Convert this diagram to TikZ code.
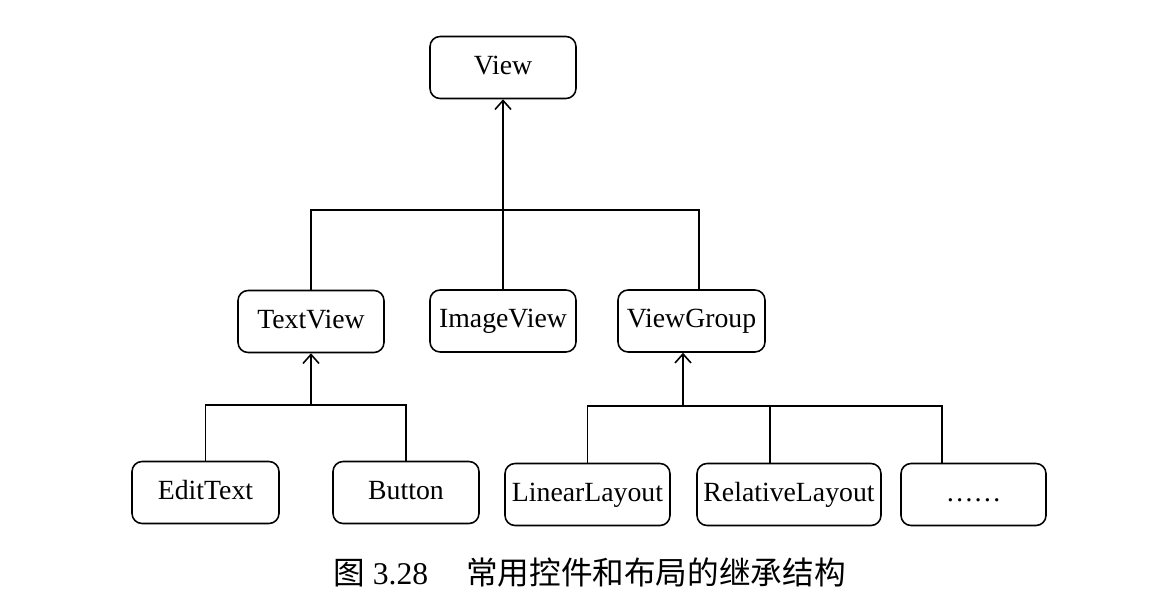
\documentclass[tikz,border=0pt]{standalone}
\usepackage{fontspec}
\setmainfont{Liberation Serif}
\newfontfamily\cjkfont{Noto Sans CJK SC}
\usetikzlibrary{arrows.meta}

\begin{document}
\begin{tikzpicture}[x=0.02cm,y=-0.02cm,
    cls/.style={draw,line width=0.9pt,rounded corners=0.2cm,minimum height=1.24cm,
      inner sep=0pt,text height=0.4cm,text depth=0.12cm,font=\fontsize{15.8}{18}\selectfont},
    link/.style={line width=0.9pt},
    inherit/.style={line width=0.9pt,-{Straight Barb[length=0.18cm,width=0.32cm]}}]
    \useasboundingbox (0,0) rectangle (1170,598);
    % classes
    \node[cls,minimum width=2.92cm] (view) at (503,67.5) {View};
    \node[cls,minimum width=2.92cm] (textview) at (311,321.5) {TextView};
    \node[cls,minimum width=2.92cm] (imageview) at (503,321) {ImageView};
    \node[cls,minimum width=2.94cm] (viewgroup) at (691.5,321) {ViewGroup};
    \node[cls,minimum width=2.94cm] (edittext) at (205.5,492.5) {EditText};
    \node[cls,minimum width=2.92cm] (button) at (406,492.5) {Button};
    \node[cls,minimum width=3.30cm] (linear) at (587.5,494.5) {LinearLayout};
    \node[cls,minimum width=3.68cm] (relative) at (789,494.5) {RelativeLayout};
    \node[cls,minimum width=2.90cm] (more) at (973.5,494.5) {……};
    % View
    \coordinate (topbus) at (503,210);
    \draw[link] (textview.north) |- (topbus) -| ([xshift=0.15cm]viewgroup.north);
    \draw[inherit] (imageview.north) -- (view.south);
    % TextView
    \coordinate (tvbus) at (311,405);
    \draw[link] (edittext.north) |- (tvbus) -| (button.north);
    \draw[inherit] (tvbus) -- (textview.south);
    % ViewGroup
    \coordinate (vgbus) at (683,406);
    \draw[link] (linear.north) |- (vgbus) -| ([xshift=-0.63cm]more.north);
    \draw[link] ([xshift=-0.38cm]relative.north) -- ([xshift=-0.38cm]relative.north |- vgbus);
    \draw[inherit] (vgbus) -- (viewgroup.south -| vgbus);
    % caption
    \node[anchor=west,inner sep=0pt,font=\fontsize{18}{20}\selectfont] (caption) at (333,572)
      {{\cjkfont 图} 3.28\hspace{0.76cm}{\cjkfont 常用控件和布局的继承结构}};
\end{tikzpicture}
\end{document}
